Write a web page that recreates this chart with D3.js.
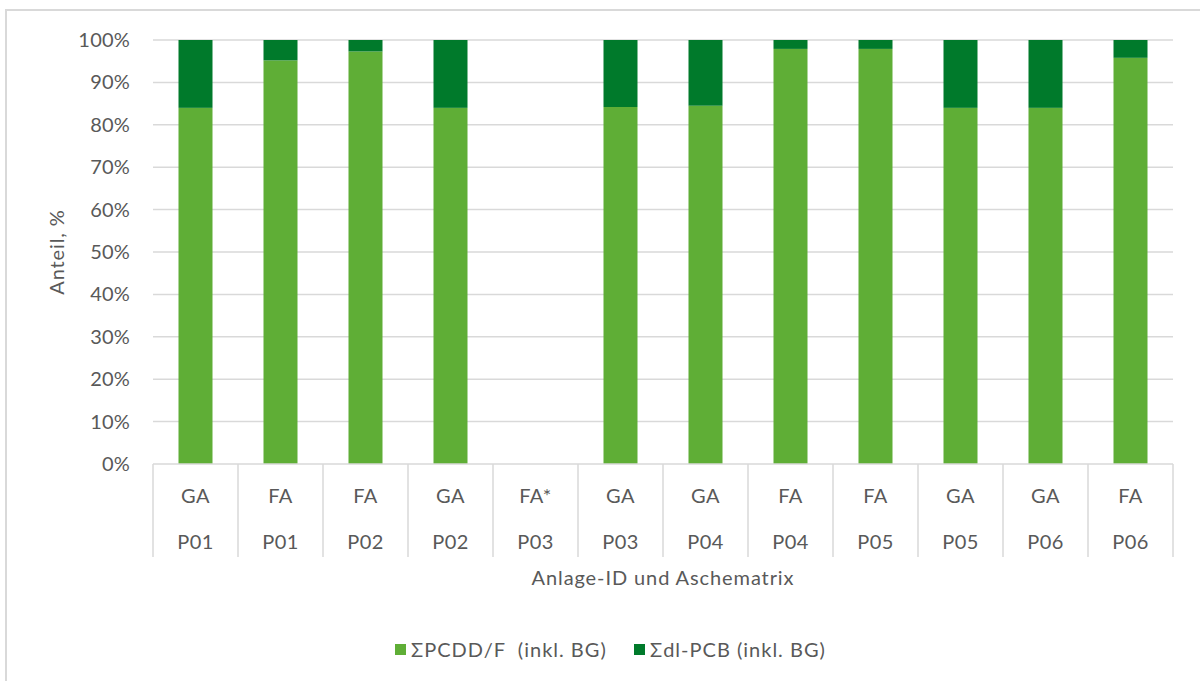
<!DOCTYPE html>
<html><head><meta charset="utf-8">
<script src="https://cdn.jsdelivr.net/npm/d3@7"></script>
<style>body{margin:0;background:#fff}svg{display:block}text{font-family:Lato,"Open Sans",sans-serif;fill:#595959}</style>
</head><body><svg id="c" width="1200" height="681"></svg>
<script>
const matrix = ["GA","FA","FA","GA","FA*","GA","GA","FA","FA","GA","GA","FA"];
const plant  = ["P01","P01","P02","P02","P03","P03","P04","P04","P05","P05","P06","P06"];
const pcdd   = [84.0,95.2,97.3,84.0,null,84.2,84.5,97.9,97.9,84.0,84.0,95.8];
const pcb    = [16.0,4.8,2.7,16.0,null,15.8,15.5,2.1,2.1,16.0,16.0,4.2];
const yTicks = [0,10,20,30,40,50,60,70,80,90,100];
const seriesNames = ["ΣPCDD/F  (inkl. BG)","Σdl-PCB (inkl. BG)"];
const colors = ["#5FAE36","#007A2B"];

const svg = d3.select("#c");
const gridC = "#d9d9d9";
const FS = 20;
svg.append("rect").attr("x",6).attr("y",10).attr("width",1300).attr("height",800)
  .attr("fill","#fff").attr("stroke",gridC).attr("stroke-width",2);

const L=153,R=1173,T=40,B=464;
const idx = d3.range(matrix.length);
const x = d3.scaleBand().domain(idx).range([L,R]).paddingInner(0).paddingOuter(0);
const y = d3.scaleLinear().domain([0,100]).range([B,T]);
const bw = 34;

// gridlines
svg.append("g").selectAll("line").data(yTicks.filter(d=>d>0)).join("line")
  .attr("x1",L).attr("x2",R).attr("y1",d=>y(d)).attr("y2",d=>y(d))
  .attr("stroke",gridC).attr("stroke-width",1.5);

// y axis labels
const ya = svg.append("g").attr("transform",`translate(${L},0)`)
  .call(d3.axisLeft(y).tickValues(yTicks).tickFormat(d=>d+"%").tickSize(0).tickPadding(23));
ya.select(".domain").remove();
ya.selectAll("text").attr("font-size",FS).attr("fill","#595959").attr("font-family","Lato,sans-serif").attr("letter-spacing",0.2);

// bars
const stackData = idx.map(i=>({i, a:pcdd[i], b:pcb[i]}));
const stack = d3.stack().keys(["a","b"]).value((d,k)=>d[k]==null?0:d[k]);
const layers = stack(stackData);
layers.forEach((layer,li)=>{
  svg.append("g").selectAll("rect").data(layer.filter(d=>d.data[li?"b":"a"]!=null)).join("rect")
    .attr("x",d=>x(d.data.i)+x.bandwidth()/2-bw/2).attr("width",bw)
    .attr("y",d=>y(d[1])).attr("height",d=>y(d[0])-y(d[1]))
    .attr("fill",colors[li]);
});

// category axis
const ax = svg.append("g");
ax.append("line").attr("x1",L).attr("x2",R).attr("y1",B).attr("y2",B).attr("stroke",gridC).attr("stroke-width",1.5);
const bounds = idx.map(i=>x(i)).concat([R]);
ax.selectAll("line.v").data(bounds).join("line").attr("class","v")
  .attr("x1",d=>d).attr("x2",d=>d).attr("y1",B).attr("y2",557).attr("stroke",gridC).attr("stroke-width",1.5);
ax.selectAll("text.m").data(idx).join("text").attr("class","m")
  .attr("x",i=>x(i)+x.bandwidth()/2).attr("y",503).attr("text-anchor","middle").attr("font-size",FS).attr("letter-spacing",0.5).text(i=>matrix[i]);
ax.selectAll("text.p").data(idx).join("text").attr("class","p")
  .attr("x",i=>x(i)+x.bandwidth()/2).attr("y",549).attr("text-anchor","middle").attr("font-size",FS).attr("letter-spacing",0.5).text(i=>plant[i]);

// titles
svg.append("text").attr("x",(L+R)/2).attr("y",585).attr("text-anchor","middle").attr("font-size",FS).attr("letter-spacing",0.9).text("Anlage-ID und Aschematrix");
svg.append("text").attr("transform",`translate(64,${(T+B)/2}) rotate(-90)`).attr("text-anchor","middle").attr("font-size",FS).attr("letter-spacing",0.9).text("Anteil, %");

// legend
const lg = [{x:395,t:seriesNames[0],c:colors[0]},{x:634,t:seriesNames[1],c:colors[1]}];
lg.forEach(d=>{
  svg.append("rect").attr("x",d.x).attr("y",644).attr("width",11).attr("height",11).attr("fill",d.c);
  svg.append("text").attr("x",d.x+16).attr("y",657).attr("font-size",FS).attr("letter-spacing",1).style("white-space","pre").text(d.t);
});
</script></body></html>
